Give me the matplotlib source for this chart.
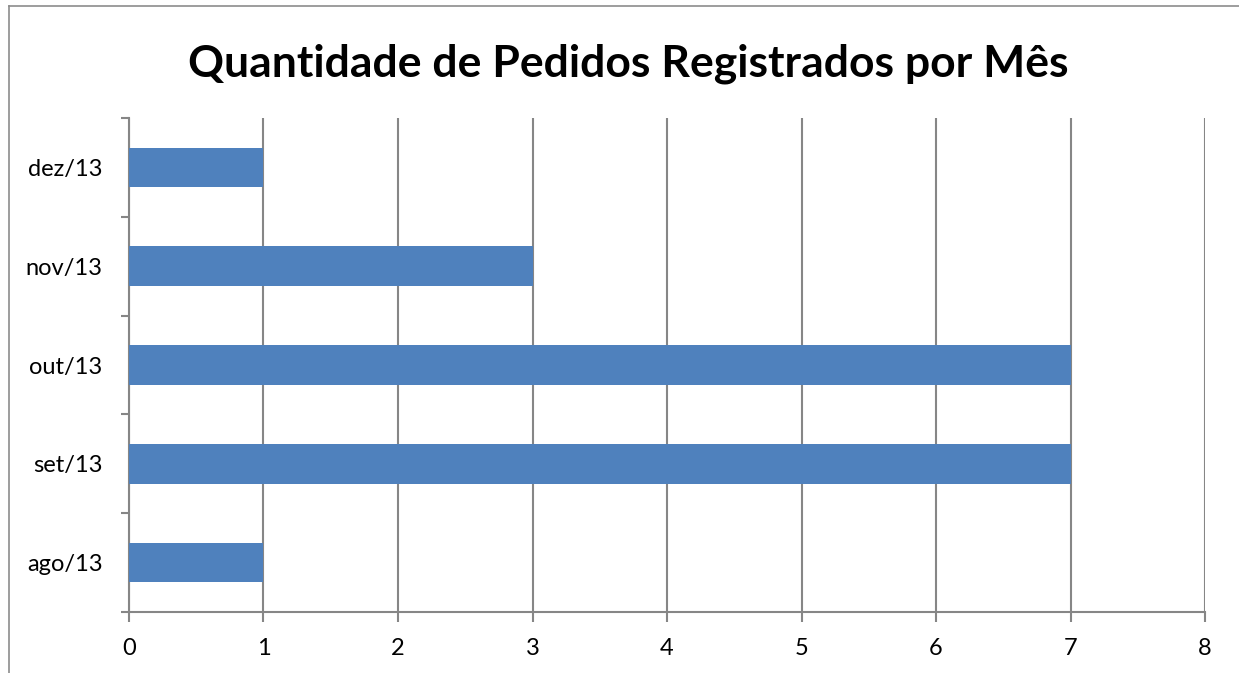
import matplotlib
matplotlib.use("Agg")
import matplotlib.pyplot as plt
from matplotlib.lines import Line2D
import numpy as np

# Data
months = ["ago/13", "set/13", "out/13", "nov/13", "dez/13"]
pedidos = [1, 7, 7, 3, 1]
x_ticks = [0, 1, 2, 3, 4, 5, 6, 7, 8]

plt.rcParams["font.family"] = ["Lato", "DejaVu Sans"]

fig = plt.figure(figsize=(12.39, 6.73), dpi=100)
ax = fig.add_axes([0.1041, 0.0906, 0.8685, 0.734])

ypos = np.arange(len(months))
ax.barh(ypos, pedidos, height=0.4, color="#4F81BD", zorder=3)

ax.set_xlim(0, 8)
ax.set_ylim(-0.5, len(months) - 0.5)

grid_color = "#868686"
ax.set_xticks(x_ticks)
ax.set_xticklabels([str(t) for t in x_ticks], fontsize=17)
ax.xaxis.grid(True, color=grid_color, linewidth=1.5, zorder=0)

# category labels centred, tick marks at category boundaries
ax.set_yticks(np.arange(-0.5, len(months), 1.0))
ax.set_yticklabels([])
ax.set_yticks(ypos, minor=True)
ax.set_yticklabels(months, minor=True, fontsize=17)
ax.tick_params(axis="y", which="minor", length=0, pad=19)
ax.tick_params(axis="y", which="major", length=6, width=1.5, color=grid_color)
ax.tick_params(axis="x", length=7, width=1.5, color=grid_color, pad=12)

for side in ["top", "right"]:
    ax.spines[side].set_visible(False)
for side in ["left", "bottom"]:
    ax.spines[side].set_color(grid_color)
    ax.spines[side].set_linewidth(1.5)

fig.suptitle("Quantidade de Pedidos Registrados por Mês", fontsize=32,
             fontweight="bold", x=0.507, y=0.905, va="center")

# chart frame (left and top edges only visible)
fig.add_artist(Line2D([9 / 1239, 9 / 1239], [0, 1 - 6 / 673], color="#8c8c8c", linewidth=1.2))
fig.add_artist(Line2D([9 / 1239, 1], [1 - 6 / 673, 1 - 6 / 673], color="#8c8c8c", linewidth=1.2))

fig.savefig("out.png", dpi=100)
